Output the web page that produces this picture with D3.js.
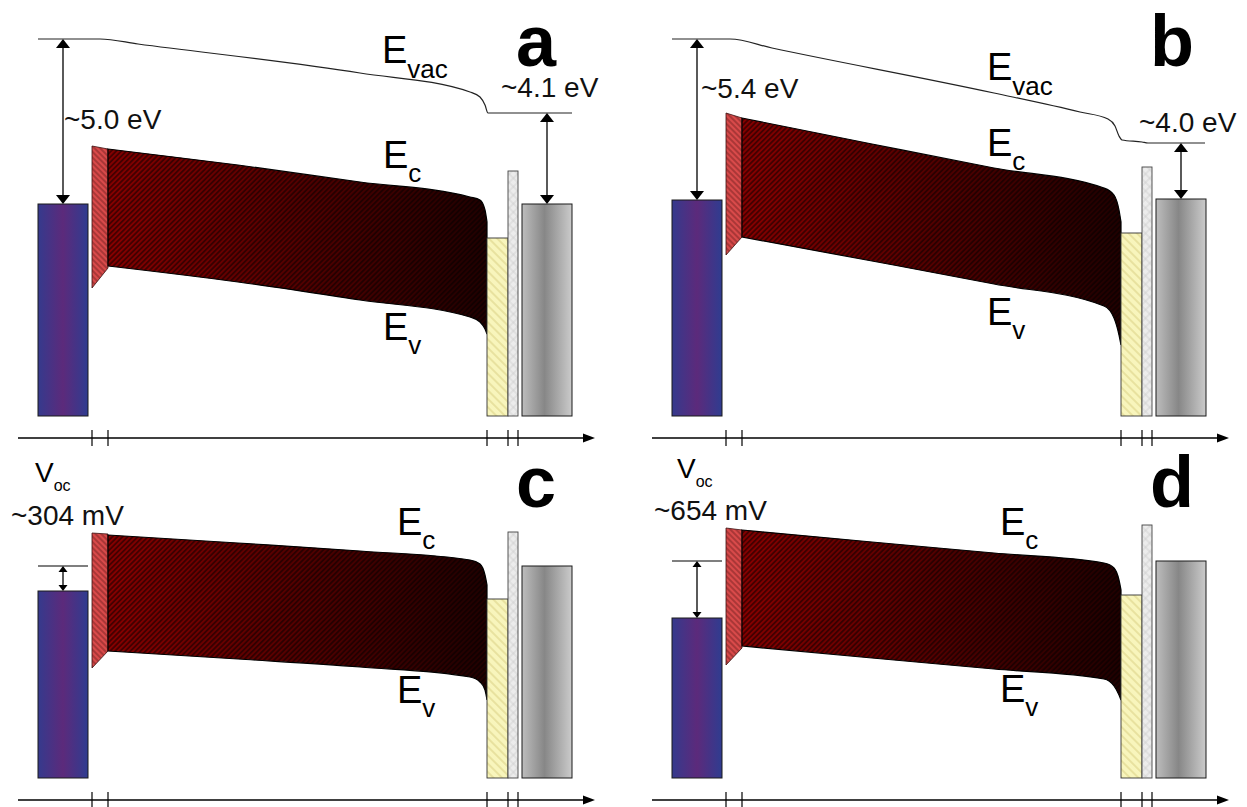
<!DOCTYPE html>
<html>
<head>
<meta charset="utf-8">
<script src="https://cdn.jsdelivr.net/npm/d3@7"></script>
<style>
  html, body { margin: 0; padding: 0; background: #fff; }
  svg { display: block; font-family: "Liberation Sans", Arial, Helvetica, sans-serif; }
</style>
</head>
<body>
<svg id="chart" width="1247" height="807"></svg>
<script>
// Schematic energy-band diagrams of a thin-film cell stack, four cases (a–d).
// Horizontal: position through the stack (schematic units).
// Vertical: electron energy (schematic units, counted up from the bottom of the contacts).

const panelIds = ["a", "b", "c", "d"];

// stack layers: front contact, interlayer, absorber, buffer, window, back contact
const layerSpans = [[0, 50], [54, 70], [70, 449], [449, 470], [470, 480], [484, 534]];
const interfaceTicks = [54, 70, 449, 470, 480];

// layer tops per panel (a, b, c, d)
const frontContactTop = [212, 216, 187, 160];
const backContactTop  = [212, 217, 212, 217];
const bufferTop       = [178, 183, 179, 183];
const windowTop       = [245, 249, 246, 253];
const interlayerTop    = [[270, 267], [303, 298], [245, 244], [250, 248]];
const interlayerBottom = [[128, 148], [161, 179], [110, 127], [113, 130]];

// absorber band edges, sampled at bandX
const bandX = [70, 200, 322, 432, 442, 447, 449];
const ecLevels = [
  [267, 251, 234, 219, 216, 206, 194],
  [298, 272, 248, 228, 221, 206, 194],
  [243, 235, 227, 218, 214, 203, 193],
  [248, 236, 225, 215, 210, 198, 188]
];
const evLevels = [
  [150, 134, 116, 99, 94, 87, 82],
  [179, 155, 132, 110, 98, 81, 71],
  [127, 119, 111, 101, 96, 88, 78],
  [132, 120, 109, 99, 92, 83, 78]
];

// vacuum level (panels a and b)
const evacA = [[0, 377], [62, 377], [100, 372], [322, 343], [432, 324], [442, 319], [447, 311], [450, 303], [534, 303]];
const evacB = [[0, 377], [58, 377], [100, 368], [322, 323], [408, 304], [436, 297], [443, 290], [447, 280], [450, 276], [470, 274], [476, 273], [533, 273]];

// annotations
const workFunctionLabels = [["~5.0 eV", "~4.1 eV"], ["~5.4 eV", "~4.0 eV"]];
const vocLabels = ["~304 mV", "~654 mV"];
const vocLevel = [212, 217];

// ---------- drawing ----------
const svg = d3.select("#chart");
const defs = svg.append("defs");

function gradient(id, stops) {
  const g = defs.append("linearGradient").attr("id", id)
    .attr("x1", 0).attr("y1", 0).attr("x2", 1).attr("y2", 0);
  stops.forEach(([o, c]) => g.append("stop").attr("offset", o).attr("stop-color", c));
}
gradient("metalBlue", [[0, "#353a8d"], [0.5, "#5c2a7b"], [1, "#2f3c90"]]);
gradient("metalGrey", [[0, "#bdbdbd"], [0.45, "#878787"], [1, "#cbcbcb"]]);
gradient("absorberFill", [[0, "#860000"], [0.45, "#580000"], [1, "#200000"]]);

function hatch(id, size, angle, stroke, width, bg, cross) {
  const p = defs.append("pattern").attr("id", id)
    .attr("patternUnits", "userSpaceOnUse")
    .attr("width", size).attr("height", size)
    .attr("patternTransform", `rotate(${angle})`);
  if (bg) p.append("rect").attr("width", size).attr("height", size).attr("fill", bg);
  p.append("line").attr("x1", size / 2).attr("y1", 0).attr("x2", size / 2).attr("y2", size)
    .attr("stroke", stroke).attr("stroke-width", width);
  if (cross) p.append("line").attr("x1", 0).attr("y1", size / 2).attr("x2", size).attr("y2", size / 2)
    .attr("stroke", stroke).attr("stroke-width", width);
}
hatch("absorberHatch", 3.6, 45, "rgba(0,0,0,0.72)", 1.2, null, false);
hatch("interlayerHatch", 4, -45, "#7a2424", 1, "#d94a4a", false);
hatch("bufferHatch", 6, -45, "#e4dd98", 1.6, "#f8f5bc", false);
hatch("windowHatch", 6, 45, "#cdcdcd", 0.8, "#ececec", true);

const panelFrame = [
  { x: 38, base: 416 }, { x: 672, base: 416 },
  { x: 38, base: 778 }, { x: 672, base: 778 }
];

const labelLayout = [
  { evac: [382, 63], ec: [383, 168], ev: [383, 340], letter: [516, 66], wf: [[64, 129], [501, 97]] },
  { evac: [987, 80], ec: [987, 156], ev: [987, 325], letter: [1150, 66], wf: [[701, 98], [1139, 132]] },
  { ec: [397, 535], ev: [397, 703], letter: [516, 507], voc: [35, 482], vocVal: [11, 525] },
  { ec: [1000, 535], ev: [1000, 702], letter: [1150, 507], voc: [677, 478], vocVal: [654, 520] }
];

const outline = "#1a1a1a";

function subLabel(g, [px, py], main, sub, size, subSize, subDy) {
  const t = g.append("text").attr("x", px).attr("y", py).attr("font-size", size).attr("fill", "#000");
  t.append("tspan").text(main);
  t.append("tspan").attr("font-size", subSize).attr("dy", subDy).text(sub);
}

function vArrow(g, px, yTop, yBot, w, h) {
  g.append("line").attr("x1", px).attr("x2", px).attr("y1", yTop + h - 1).attr("y2", yBot - h + 1)
    .attr("stroke", "#000").attr("stroke-width", 1.3);
  g.append("path").attr("d", `M${px},${yTop} L${px - w / 2},${yTop + h} L${px + w / 2},${yTop + h} Z`).attr("fill", "#000");
  g.append("path").attr("d", `M${px},${yBot} L${px - w / 2},${yBot - h} L${px + w / 2},${yBot - h} Z`).attr("fill", "#000");
}

panelIds.forEach((id, i) => {
  const f = panelFrame[i];
  const L = labelLayout[i];
  const x = d3.scaleLinear().domain([0, 534]).range([f.x, f.x + 534]);
  const y = d3.scaleLinear().domain([0, 400]).range([f.base, f.base - 400]);
  const g = svg.append("g").attr("class", "panel-" + id);

  // vacuum level
  const evac = i === 0 ? evacA : i === 1 ? evacB : null;
  if (evac) {
    g.append("path")
      .attr("d", d3.line().x(d => x(d[0])).y(d => y(d[1])).curve(d3.curveMonotoneX)(evac))
      .attr("fill", "none").attr("stroke", "#222").attr("stroke-width", 1.2);
  }

  // front contact
  const [fc0, fc1] = layerSpans[0];
  g.append("rect").attr("x", x(fc0)).attr("y", y(frontContactTop[i]))
    .attr("width", x(fc1) - x(fc0)).attr("height", y(0) - y(frontContactTop[i]))
    .attr("fill", "url(#metalBlue)").attr("stroke", outline).attr("stroke-width", 1);

  // interlayer
  const [il0, il1] = layerSpans[1];
  const ilPts = [[il0, interlayerTop[i][0]], [il1, interlayerTop[i][1]], [il1, interlayerBottom[i][1]], [il0, interlayerBottom[i][0]]];
  g.append("path").attr("d", "M" + ilPts.map(p => [x(p[0]), y(p[1])].join(",")).join("L") + "Z")
    .attr("fill", "url(#interlayerHatch)").attr("stroke", "#3a1010").attr("stroke-width", 0.8);

  // absorber bands
  const band = bandX.map((bx, k) => ({ x: bx, ec: ecLevels[i][k], ev: evLevels[i][k] }));
  const area = d3.area().x(d => x(d.x)).y0(d => y(d.ev)).y1(d => y(d.ec)).curve(d3.curveMonotoneX);
  g.append("path").attr("d", area(band)).attr("fill", "url(#absorberFill)");
  g.append("path").attr("d", area(band)).attr("fill", "url(#absorberHatch)")
    .attr("stroke", "#000").attr("stroke-width", 1.2);

  // buffer
  const [bf0, bf1] = layerSpans[3];
  g.append("rect").attr("x", x(bf0)).attr("y", y(bufferTop[i]))
    .attr("width", x(bf1) - x(bf0)).attr("height", y(0) - y(bufferTop[i]))
    .attr("fill", "url(#bufferHatch)").attr("stroke", "#333").attr("stroke-width", 0.9);

  // window
  const [w0, w1] = layerSpans[4];
  g.append("rect").attr("x", x(w0)).attr("y", y(windowTop[i]))
    .attr("width", x(w1) - x(w0)).attr("height", y(0) - y(windowTop[i]))
    .attr("fill", "url(#windowHatch)").attr("stroke", "#444").attr("stroke-width", 0.9);

  // back contact
  const [bc0, bc1] = layerSpans[5];
  g.append("rect").attr("x", x(bc0)).attr("y", y(backContactTop[i]))
    .attr("width", x(bc1) - x(bc0)).attr("height", y(0) - y(backContactTop[i]))
    .attr("fill", "url(#metalGrey)").attr("stroke", outline).attr("stroke-width", 1);

  // work-function arrows (a, b) or Voc marker (c, d)
  if (evac) {
    vArrow(g, x(25), y(evac[0][1]), y(frontContactTop[i]), 14, 9);
    vArrow(g, x((bc0 + bc1) / 2), y(evac[evac.length - 1][1]), y(backContactTop[i]), 14, 9);
    workFunctionLabels[i].forEach((txt, k) => {
      g.append("text").attr("x", L.wf[k][0]).attr("y", L.wf[k][1])
        .attr("font-size", 28).attr("fill", "#111").text(txt);
    });
    subLabel(g, L.evac, "E", "vac", 38, 26, 15);
  } else {
    const v = vocLevel[i - 2];
    g.append("line").attr("x1", x(fc0)).attr("x2", x(fc1)).attr("y1", y(v)).attr("y2", y(v))
      .attr("stroke", "#000").attr("stroke-width", 1.2);
    vArrow(g, x(25), y(v), y(frontContactTop[i]), 9, 6);
    subLabel(g, L.voc, "V", "oc", 28, 16, 9);
    g.append("text").attr("x", L.vocVal[0]).attr("y", L.vocVal[1])
      .attr("font-size", 28).attr("fill", "#111").text(vocLabels[i - 2]);
  }

  subLabel(g, L.ec, "E", "c", 38, 26, 14);
  subLabel(g, L.ev, "E", "v", 38, 26, 14);

  g.append("text").attr("x", L.letter[0]).attr("y", L.letter[1])
    .attr("font-size", 72).attr("font-weight", "bold").attr("fill", "#000").text(id);

  // position axis with interface ticks
  const ay = f.base + 22;
  const x0 = x(-20), x1 = x(557);
  g.append("line").attr("x1", x0).attr("x2", x1 - 8).attr("y1", ay).attr("y2", ay)
    .attr("stroke", "#000").attr("stroke-width", 1.5);
  g.append("path").attr("d", `M${x1},${ay} L${x1 - 12},${ay - 4.5} L${x1 - 12},${ay + 4.5} Z`).attr("fill", "#000");
  g.selectAll(".tick").data(interfaceTicks).join("line")
    .attr("x1", d => x(d)).attr("x2", d => x(d))
    .attr("y1", ay - 8).attr("y2", ay + 8)
    .attr("stroke", "#000").attr("stroke-width", 1.2);
});
</script>
</body>
</html>
